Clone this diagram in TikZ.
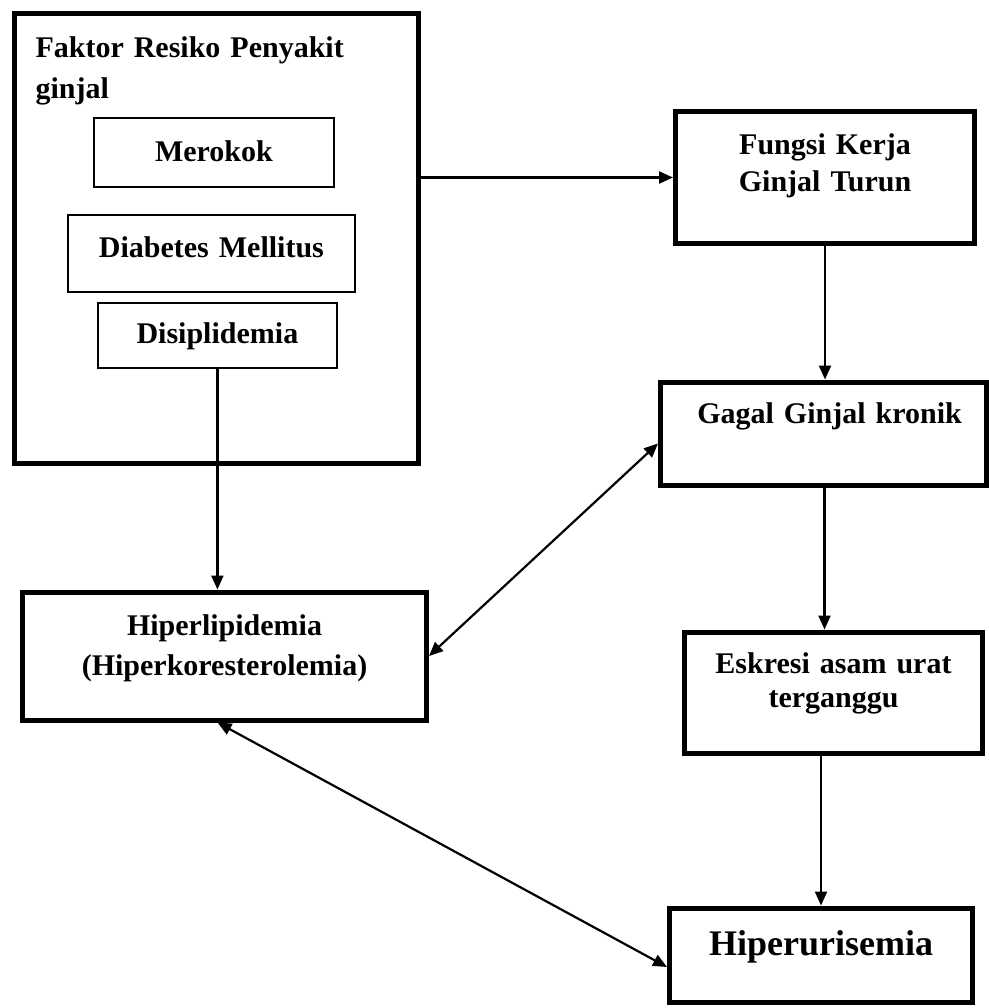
\documentclass[tikz,border=0pt]{standalone}
\usepackage{fontspec}
\setmainfont[WordSpace=0.8]{Liberation Serif}
\usepackage{tikz}
\usetikzlibrary{arrows.meta}

\begin{document}
\begin{tikzpicture}[
  x=1pt, y=-1pt,
  every node/.style={font=\fontsize{30}{38}\selectfont\bfseries},
  riskbox/.style={draw, line width=5pt, inner xsep=21pt, inner ysep=0pt, align=left, anchor=base west},
  factorbox/.style={draw, line width=1.8pt, inner sep=0pt, align=center, anchor=base west},
  stagebox/.style={draw, line width=5pt, inner sep=0pt, align=center, anchor=base west},
  arrow/.style={-{Triangle[length=14pt, width=12pt]}, line width=2.2pt},
  twoway/.style={{Triangle[length=14pt, width=12pt]}-{Triangle[length=14pt, width=12pt]}, line width=2.2pt}
]
\useasboundingbox (0,0) rectangle (988,1008);

\node[riskbox, text width=362pt, text height=44pt, text depth=405pt, font=\fontsize{30}{41}\selectfont\bfseries] (risk) at (12,58) {Faktor Resiko Penyakit\\ginjal};
\node[factorbox, text width=240pt, text height=44pt, text depth=25pt] (merokok) at (93,162) {Merokok};
\node[factorbox, text width=287pt, text height=42pt, text depth=35pt] (diabetes) at (67,257) {Diabetes Mellitus};
\node[factorbox, text width=239pt, text height=40pt, text depth=25pt] (disiplidemia) at (97,343) {Disiplidemia};

\node[stagebox, text width=299pt, text height=43pt, text depth=88pt, font=\fontsize{30}{37}\selectfont\bfseries] (fungsi) at (673,155) {Fungsi Kerja\\Ginjal Turun};
\node[stagebox, text width=326pt, text height=41pt, text depth=62pt] (gagal) at (658,423) {\hspace*{12pt}Gagal Ginjal kronik};
\node[stagebox, text width=298pt, text height=41pt, text depth=80pt, font=\fontsize{30}{34}\selectfont\bfseries] (eskresi) at (682,673) {Eskresi asam urat\\terganggu};
\node[stagebox, text width=303pt, text height=47pt, text depth=47pt, font=\fontsize{36}{42}\selectfont\bfseries] (hiperurisemia) at (667,955) {Hiperurisemia};
\node[stagebox, text width=404pt, text height=43pt, text depth=85pt, font=\fontsize{30}{40}\selectfont\bfseries] (hiperlipidemia) at (20,635) {Hiperlipidemia\\(Hiperkoresterolemia)};

\draw[arrow] (risk.east |- fungsi.west) -- (fungsi.west);
\draw[arrow] (fungsi.south) -- (fungsi.south |- gagal.north);
\draw[arrow] ([xshift=1pt]gagal.south) -- ([xshift=1pt]gagal.south |- eskresi.north);
\draw[arrow] (hiperurisemia.north |- eskresi.south) -- (hiperurisemia.north);
\draw[arrow] (disiplidemia.south) -- (disiplidemia.south |- hiperlipidemia.north);
\draw[twoway] (hiperlipidemia.east) -- ([yshift=-10pt]gagal.west);
\draw[twoway] ([xshift=-7pt]hiperlipidemia.south) -- ([yshift=-12pt]hiperurisemia.west);
\end{tikzpicture}
\end{document}
